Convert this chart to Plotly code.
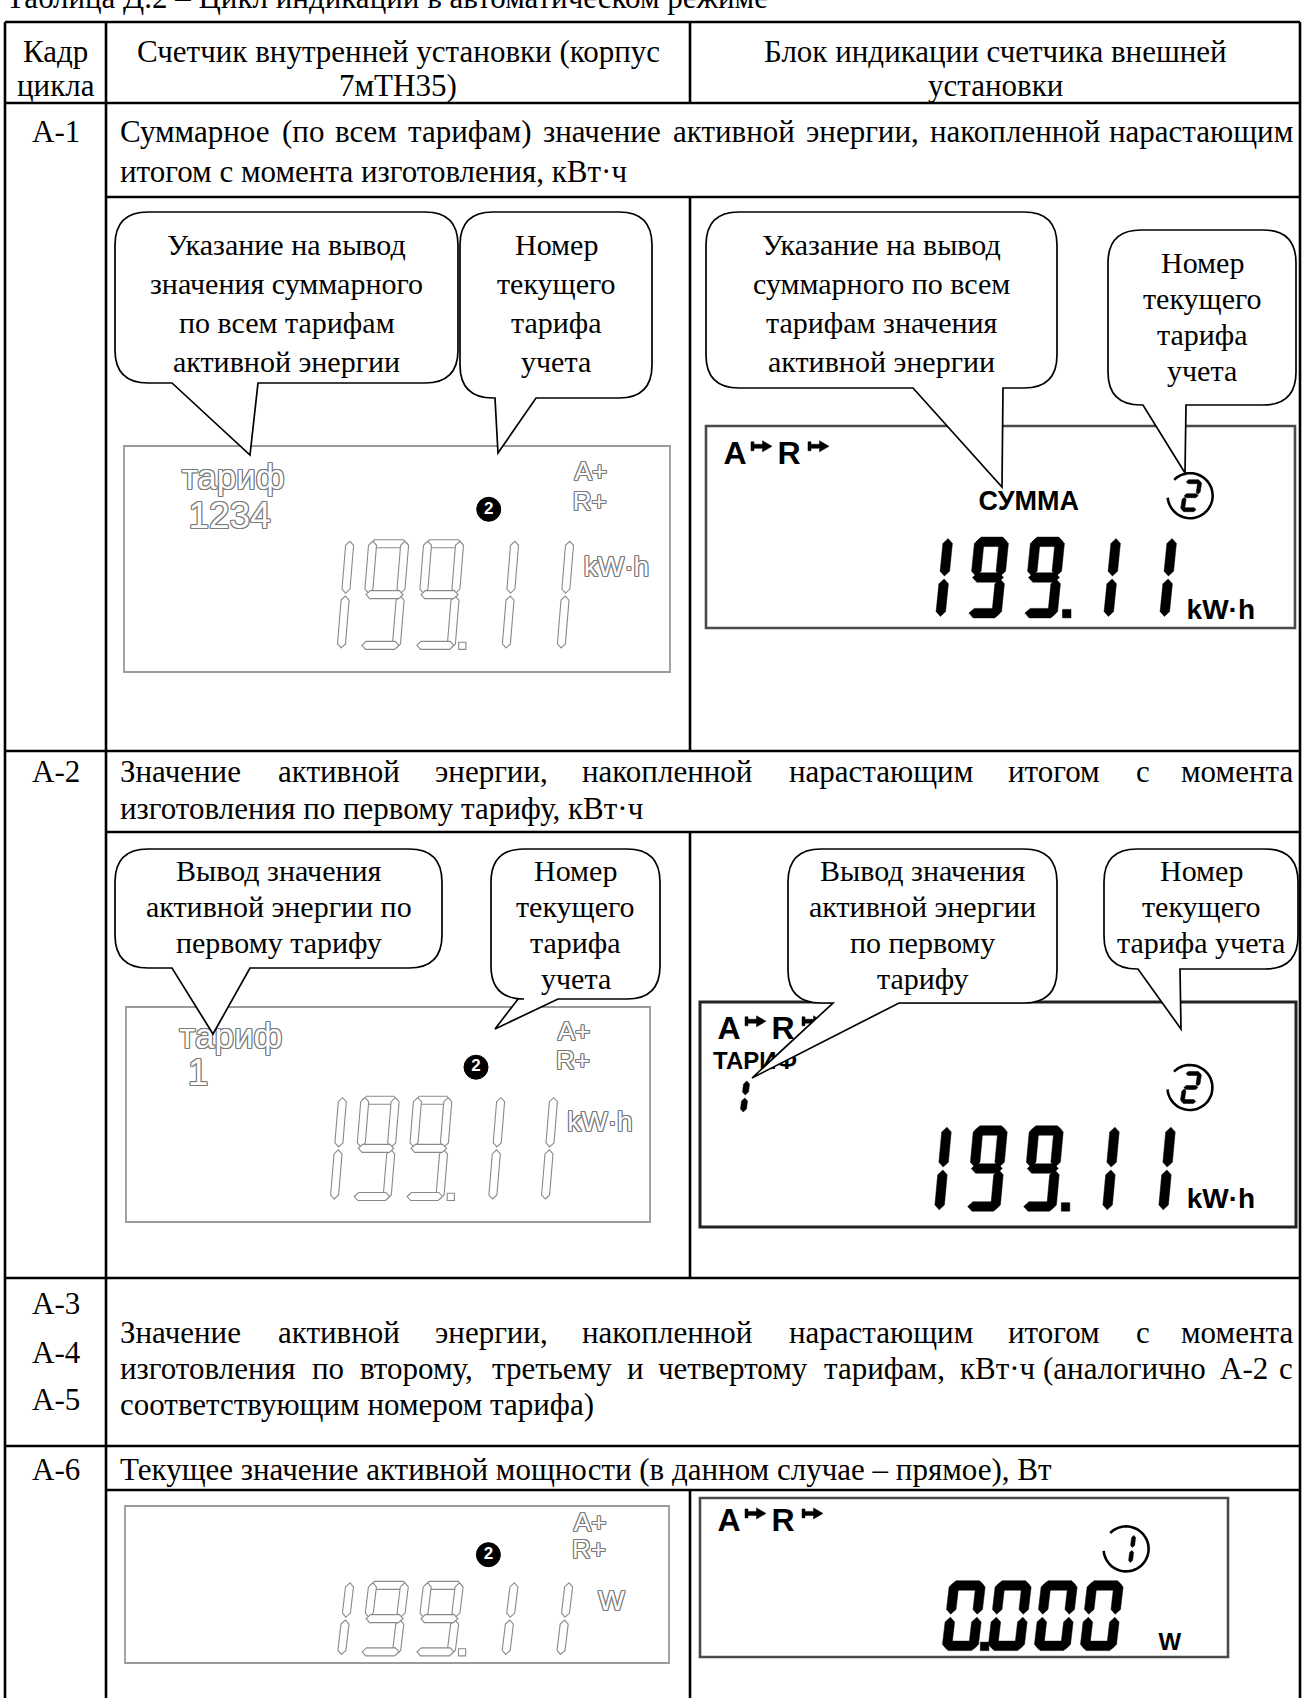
import math
import plotly.graph_objects as go

# ---------------- content (texts and displayed values) ----------------
TITLE = "Таблица Д.2 – Цикл индикации в автоматическом режиме"
HEAD_COL0 = ["Кадр", "цикла"]
HEAD_COL1 = ["Счетчик внутренней установки (корпус", "7мТН35)"]
HEAD_COL2 = ["Блок индикации счетчика внешней", "установки"]
ROW_LABELS = ["А-1", "А-2", "А-3", "А-4", "А-5", "А-6"]
DESC_A1 = ["Суммарное (по всем тарифам) значение активной энергии, накопленной нарастающим",
           "итогом с момента изготовления, кВт·ч"]
DESC_A2 = ["Значение активной энергии, накопленной нарастающим итогом с момента",
           "изготовления по первому тарифу, кВт·ч"]
DESC_A3 = ["Значение активной энергии, накопленной нарастающим итогом с момента",
           "изготовления по второму, третьему и четвертому тарифам, кВт·ч (аналогично А-2 с",
           "соответствующим номером тарифа)"]
DESC_A6 = ["Текущее значение активной мощности (в данном случае – прямое), Вт"]
CALLOUTS_A1 = [["Указание на вывод", "значения суммарного", "по всем тарифам", "активной энергии"],
               ["Номер", "текущего", "тарифа", "учета"],
               ["Указание на вывод", "суммарного по всем", "тарифам значения", "активной энергии"],
               ["Номер", "текущего", "тарифа", "учета"]]
CALLOUTS_A2 = [["Вывод значения", "активной энергии по", "первому тарифу"],
               ["Номер", "текущего", "тарифа", "учета"],
               ["Вывод значения", "активной энергии", "по первому", "тарифу"],
               ["Номер", "текущего", "тарифа учета"]]
ENERGY_VALUE = "199.11"
POWER_VALUE = "0.000"
TARIFF_ALL = "1234"
TARIFF_FIRST = "1"
TARIFF_CURRENT = "2"
TARIFF_POWER = "1"
UNIT_ENERGY = "kW·h"
UNIT_POWER = "W"
FLAGS_INNER = ["A+", "R+"]
LABEL_SUM = "СУММА"
LABEL_TARIFF_INNER = "тариф"
LABEL_TARIFF_OUTER = "ТАРИФ"

# ---------------- layout constants ----------------
W, H = 1303, 1698
SERIF = "Liberation Serif, Times New Roman, serif"
SANS = "Liberation Sans, Arial, sans-serif"
NARROW = "Liberation Sans Narrow, Arial Narrow, Liberation Sans, sans-serif"
BODY = 31
BUB = 30
X_L, X_C1, X_C2, X_R = 5, 106, 690, 1300
Y_TOP, Y_HEAD, Y_A1D, Y_A2, Y_A2D, Y_A3, Y_A6, Y_A6D = 22, 103, 197, 751, 832, 1278, 1446, 1490
TEXT_X = X_C1 + 12
TEXT_R = X_R - 5

TW = {'а': .444, 'б': .509, 'в': .472, 'г': .410, 'д': .509, 'е': .444, 'ж': .691, 'з': .395, 'и': .535,
      'й': .535, 'к': .486, 'л': .499, 'м': .633, 'н': .535, 'о': .5, 'п': .535, 'р': .5, 'с': .444,
      'т': .437, 'у': .5, 'ф': .648, 'х': .5, 'ц': .535, 'ч': .503, 'ш': .77, 'щ': .77, 'ъ': .517,
      'ы': .672, 'ь': .456, 'э': .429, 'ю': .747, 'я': .46, 'А': .722, 'З': .521, 'С': .667, 'Т': .611,
      ' ': .25, ',': .25, '.': .25, '(': .333, ')': .333, '-': .333, '·': .25}

shapes = []
annotations = []
traces = []


def add_text(x, y, text, size=BODY, family=SERIF, xanchor="center", yanchor="middle", color="black"):
    annotations.append(dict(x=x, y=y, xref="x", yref="y", text=text, showarrow=False,
                            xanchor=xanchor, yanchor=yanchor,
                            font=dict(family=family, size=size, color=color)))


def tw(s, size):
    return size * sum(TW.get(c, 0.5) for c in s)


def justify_line(text, x0, x1, y, size=BODY):
    words = text.split(" ")
    widths = [tw(w, size) for w in words]
    gap = max((x1 - x0 - sum(widths)) / (len(words) - 1), 0.25 * size)
    x = x0
    for i, (w, wd) in enumerate(zip(words, widths)):
        if i == len(words) - 1:
            add_text(x1, y, w, size, xanchor="right")
        else:
            add_text(x, y, w, size, xanchor="left")
        x += wd + gap


def line(x0, y0, x1, y1, width=2.6, color="black", layer="above"):
    shapes.append(dict(type="line", x0=x0, y0=y0, x1=x1, y1=y1, xref="x", yref="y",
                       line=dict(color=color, width=width), layer=layer))


def path(p, fill, lc, lw, layer="below"):
    shapes.append(dict(type="path", path=p, xref="x", yref="y", fillcolor=fill,
                       line=dict(color=lc, width=lw), layer=layer))


def poly(pts):
    return "M " + " L ".join(f"{x:.1f},{y:.1f}" for x, y in pts) + " Z"


def text_trace(x, y, text, size, family=SANS, color="black", shadow=None, pos="middle center", bold=False):
    tf = dict(family=family, size=size, color=color)
    if shadow:
        tf["shadow"] = shadow
    if bold:
        tf["weight"] = "bold"
    traces.append(go.Scatter(x=[x], y=[y], mode="text", text=[text], textposition=pos,
                             textfont=tf, hoverinfo="skip", showlegend=False))


OUTLINE = ("1px 0 0 #7a7a7a, -1px 0 0 #7a7a7a, 0 1px 0 #7a7a7a, 0 -1px 0 #7a7a7a, "
           "1px 1px 0 #7a7a7a, -1px -1px 0 #7a7a7a, 1px -1px 0 #7a7a7a, -1px 1px 0 #7a7a7a")

SEGMENTS = {'0': 'abcdef', '1': 'bc', '2': 'abged', '3': 'abgcd', '4': 'fgbc', '5': 'afgcd',
            '6': 'afgedc', '7': 'abc', '8': 'abcdefg', '9': 'abcdfg'}


def seg_path(seg, x0, yb, w, h, t, sl, g=1.5):
    ht = t / 2
    if seg in 'adg':
        vc = {'a': h - ht, 'g': h / 2, 'd': ht}[seg]
        u0, u1 = g, w - g
        pts = [(u0, vc), (u0 + ht, vc + ht), (u1 - ht, vc + ht), (u1, vc), (u1 - ht, vc - ht), (u0 + ht, vc - ht)]
    else:
        uc = ht if seg in 'fe' else w - ht
        v0, v1 = (h / 2 + g, h - g) if seg in 'fb' else (g, h / 2 - g)
        pts = [(uc, v0), (uc + ht, v0 + ht), (uc + ht, v1 - ht), (uc, v1), (uc - ht, v1 - ht), (uc - ht, v0 + ht)]
    return poly([(x0 + u + sl * v / h, yb - v) for u, v in pts])


def draw_number(text, x_start, yb, w, h, t, sl, pitch, fill, lc, lw):
    x = x_start
    prev = None
    for ch in text:
        if ch == '.':
            px = prev + w + 0.25 * (pitch - w)
            path(poly([(px, yb - t * 0.9), (px + t * 0.9, yb - t * 0.9), (px + t * 0.9, yb), (px, yb)]), fill, lc, lw)
            continue
        for s in SEGMENTS[ch]:
            path(seg_path(s, x, yb, w, h, t, sl), fill, lc, lw)
        prev = x
        x += pitch


def arrow(x, y, L=21, hh=9):
    p = poly([(x, y - hh / 2), (x + 3, y - hh / 2), (x + 3, y - 2), (x + L * 0.55, y - 2), (x + L * 0.55, y - hh / 2 - 1),
              (x + L, y), (x + L * 0.55, y + hh / 2 + 1), (x + L * 0.55, y + 2), (x + 3, y + 2), (x + 3, y + hh / 2),
              (x, y + hh / 2)])
    path(p, "black", "black", 0.5)


def open_circle(cx, cy, r, gap=(135, 185), lw=2.6):
    a0, a1 = gap[1], gap[0] + 360
    pts = []
    n = 48
    for i in range(n + 1):
        a = math.radians(a0 + (a1 - a0) * i / n)
        pts.append((cx + r * math.cos(a), cy - r * math.sin(a)))
    p = "M " + " L ".join(f"{x:.1f},{y:.1f}" for x, y in pts)
    shapes.append(dict(type="path", path=p, xref="x", yref="y", line=dict(color="black", width=lw), layer="below"))


def bubble(x0, y0, x1, y1, tail, lines, first, spacing, r=33):
    bx0, bx1, tx, ty = tail
    p = (f"M {x0 + r},{y0} L {x1 - r},{y0} Q {x1},{y0} {x1},{y0 + r} L {x1},{y1 - r} Q {x1},{y1} {x1 - r},{y1} "
         f"L {bx1},{y1} L {tx},{ty} L {bx0},{y1} L {x0 + r},{y1} Q {x0},{y1} {x0},{y1 - r} "
         f"L {x0},{y0 + r} Q {x0},{y0} {x0 + r},{y0} Z")
    path(p, "white", "black", 1.7, layer="above")
    cx = (x0 + x1) / 2
    for i, ln in enumerate(lines):
        add_text(cx, first + i * spacing, ln, BUB)


def left_lcd(box, tariff_num, value, unit, fr):
    x0, y0, x1, y1 = box
    Wd, Hd = x1 - x0, y1 - y0
    fx = lambda f: x0 + f * Wd
    fy = lambda f: y0 + f * Hd
    shapes.append(dict(type="rect", x0=x0, y0=y0, x1=x1, y1=y1, xref="x", yref="y",
                       line=dict(color="#9a9a9a", width=1.8), fillcolor="white", layer="below"))
    if tariff_num is not None:
        text_trace(fx(0.2), fy(fr["tar"]), LABEL_TARIFF_INNER, 35, color="white", shadow=OUTLINE)
        text_trace(fx(0.118), fy(fr["num"]), tariff_num, 37, color="white", shadow=OUTLINE, pos="middle right")
    cx, cy = fx(0.668), fy(fr["circ"])
    shapes.append(dict(type="circle", x0=cx - 12, x1=cx + 12, y0=cy - 12, y1=cy + 12,
                       xref="x", yref="y", fillcolor="black", line=dict(color="black", width=1), layer="below"))
    text_trace(cx, cy, TARIFF_CURRENT, 17, color="white", bold=True)
    text_trace(fx(0.855), fy(fr["a"]), FLAGS_INNER[0], 26, color="white", shadow=OUTLINE)
    text_trace(fx(0.853), fy(fr["r"]), FLAGS_INNER[1], 26, color="white", shadow=OUTLINE)
    text_trace(fx(fr["ux"]), fy(fr["unit"]), unit, 28, color="white", shadow=OUTLINE, pos="middle right")
    yb, yt = fy(fr["bot"]), fy(fr["top"])
    draw_number(value, fx(0.3315), yb, 0.0733 * Wd, yb - yt, 8, 0.0165 * Wd, 0.1007 * Wd, "white", "#8a8a8a", 1.1)


def right_lcd(box, value, unit, mode, fr, border="#4a4a4a", bw=2.6):
    x0, y0, x1, y1 = box
    Wd, Hd = x1 - x0, y1 - y0
    fx = lambda f: x0 + f * Wd
    fy = lambda f: y0 + f * Hd
    shapes.append(dict(type="rect", x0=x0, y0=y0, x1=x1, y1=y1, xref="x", yref="y",
                       line=dict(color=border, width=bw), fillcolor="white", layer="below"))
    ya = fy(fr["a"])
    ax = x0 + 18
    text_trace(ax + 11, ya, "A", 32, bold=True)
    arrow(ax + 27, ya - 10)
    text_trace(ax + 65, ya, "R", 32, bold=True)
    arrow(ax + 84, ya - 10)
    if mode == "sum":
        text_trace(fx(0.548), fy(fr["lab"]), LABEL_SUM, 27, family=NARROW, bold=True)
    if mode == "tariff":
        text_trace(x0 + 55, fy(fr["lab"]), LABEL_TARIFF_OUTER, 24, family=NARROW, bold=True)
        yb1 = fy(fr["one"]) + 17
        draw_number(TARIFF_FIRST, x0 + 30, yb1, 16, 34, 6, 4, 20, "black", "black", 0.5)
    cx, cy = fx(fr["cx"]), fy(fr["cy"])
    open_circle(cx, cy, 22.5)
    yb, yt = fy(fr["bot"]), fy(fr["top"])
    if mode == "power":
        draw_number(TARIFF_POWER, cx - 10, cy + 15, 16, 30, 4, 4, 20, "black", "black", 0.5)
        draw_number(value, fx(fr["dx"]), yb, 36, yb - yt, 9.5, 8, 46, "black", "black", 0.5)
        text_trace(fx(fr["ux"]), fy(fr["uy"]), unit, 24, family=NARROW, bold=True)
    else:
        draw_number(TARIFF_CURRENT, cx - 10, cy + 16, 17, 32, 4, 5, 20, "black", "black", 0.5)
        draw_number(value, fx(fr["dx"]), yb, 34, yb - yt, 9.5, 8, 56, "black", "black", 0.5)
        text_trace(fx(fr["ux"]), fy(fr["uy"]), unit, 28, bold=True)


# ---------------- title ----------------
add_text(4, 17, TITLE, BODY, xanchor="left", yanchor="bottom")

# ---------------- header ----------------
for i, (a, b) in enumerate([HEAD_COL0, HEAD_COL1, HEAD_COL2]):
    cx = [(X_L + X_C1) / 2, (X_C1 + X_C2) / 2, (X_C2 + X_R) / 2][i]
    add_text(cx, 51, a)
    add_text(cx, 85, b)

# ---------------- row texts ----------------
add_text(56, 131, ROW_LABELS[0])
justify_line(DESC_A1[0], TEXT_X, TEXT_R, 131)
add_text(TEXT_X, 171, DESC_A1[1], xanchor="left")

add_text(56, 771, ROW_LABELS[1])
justify_line(DESC_A2[0], TEXT_X, TEXT_R, 771)
add_text(TEXT_X, 808, DESC_A2[1], xanchor="left")

add_text(56, 1303, ROW_LABELS[2])
add_text(56, 1352, ROW_LABELS[3])
add_text(56, 1399, ROW_LABELS[4])
justify_line(DESC_A3[0], TEXT_X, TEXT_R, 1332)
justify_line(DESC_A3[1], TEXT_X, TEXT_R, 1368)
add_text(TEXT_X, 1404, DESC_A3[2], xanchor="left")

add_text(56, 1469, ROW_LABELS[5])
add_text(TEXT_X, 1469, DESC_A6[0], xanchor="left")

# ---------------- displays ----------------
FR_L = dict(tar=0.15, num=0.322, circ=0.28, a=0.122, r=0.256, unit=0.546, ux=0.842, top=0.415, bot=0.9)
FR_L6 = dict(tar=0.2, num=0.35, circ=0.31, a=0.115, r=0.29, unit=0.62, ux=0.87, top=0.48, bot=0.955)
FR_R1 = dict(a=0.15, lab=0.38, cx=0.822, cy=0.345, dx=0.348, top=0.55, bot=0.95, ux=0.874, uy=0.92)
FR_R2 = dict(a=0.13, lab=0.27, one=0.42, cx=0.822, cy=0.38, dx=0.352, top=0.55, bot=0.93, ux=0.874, uy=0.885)
FR_R6 = dict(a=0.16, cx=0.807, cy=0.32, dx=0.458, top=0.52, bot=0.96, ux=0.89, uy=0.92)

left_lcd((124, 446, 670, 672), TARIFF_ALL, ENERGY_VALUE, UNIT_ENERGY, FR_L)
right_lcd((706, 426, 1295, 628), ENERGY_VALUE, UNIT_ENERGY, "sum", FR_R1)
left_lcd((126, 1007, 650, 1222), TARIFF_FIRST, ENERGY_VALUE, UNIT_ENERGY, FR_L)
right_lcd((700, 1002, 1296, 1227), ENERGY_VALUE, UNIT_ENERGY, "tariff", FR_R2, border="#222", bw=3)
left_lcd((125, 1506, 669, 1663), None, ENERGY_VALUE, UNIT_POWER, FR_L6)
right_lcd((700, 1498, 1228, 1657), POWER_VALUE, UNIT_POWER, "power", FR_R6)

# ---------------- callouts ----------------
bubble(115, 212, 458, 383, (172, 258, 250, 455), CALLOUTS_A1[0], 244, 39)
bubble(460, 212, 652, 398, (495, 536, 498, 453), CALLOUTS_A1[1], 244, 39)
bubble(706, 212, 1057, 388, (913, 1003, 1002, 487), CALLOUTS_A1[2], 244, 39)
bubble(1108, 230, 1296, 405, (1143, 1186, 1185, 473), CALLOUTS_A1[3], 262, 36)
bubble(115, 849, 442, 968, (172, 250, 213, 1034), CALLOUTS_A2[0], 870, 36)
bubble(491, 849, 660, 999, (518, 558, 495, 1029), CALLOUTS_A2[1], 870, 36)
bubble(788, 849, 1057, 1003, (833, 899, 752, 1078), CALLOUTS_A2[2], 870, 36)
bubble(1104, 849, 1298, 969, (1138, 1180, 1181, 1029), CALLOUTS_A2[3], 870, 36)

# ---------------- table grid ----------------
for (x0, x1, y) in [(X_L, X_R, Y_TOP), (X_L, X_R, Y_HEAD), (X_C1, X_R, Y_A1D), (X_L, X_R, Y_A2),
                    (X_C1, X_R, Y_A2D), (X_L, X_R, Y_A3), (X_L, X_R, Y_A6), (X_C1, X_R, Y_A6D)]:
    line(x0, y, x1, y)
for x in (X_L, X_C1, X_R):
    line(x, Y_TOP, x, H + 5)
for (y0, y1) in [(Y_TOP, Y_HEAD), (Y_A1D, Y_A2), (Y_A2D, Y_A3), (Y_A6D, H + 5)]:
    line(X_C2, y0, X_C2, y1)

fig = go.Figure(traces)
fig.update_layout(
    width=W, height=H, margin=dict(l=0, r=0, t=0, b=0),
    paper_bgcolor="white", plot_bgcolor="white",
    xaxis=dict(range=[0, W], visible=False, fixedrange=True),
    yaxis=dict(range=[H, 0], visible=False, fixedrange=True),
    shapes=shapes, annotations=annotations, showlegend=False,
)
fig.write_html("out.html", config={"displayModeBar": False},
               post_script="document.body.style.margin='0px';document.body.style.overflow='hidden';")
